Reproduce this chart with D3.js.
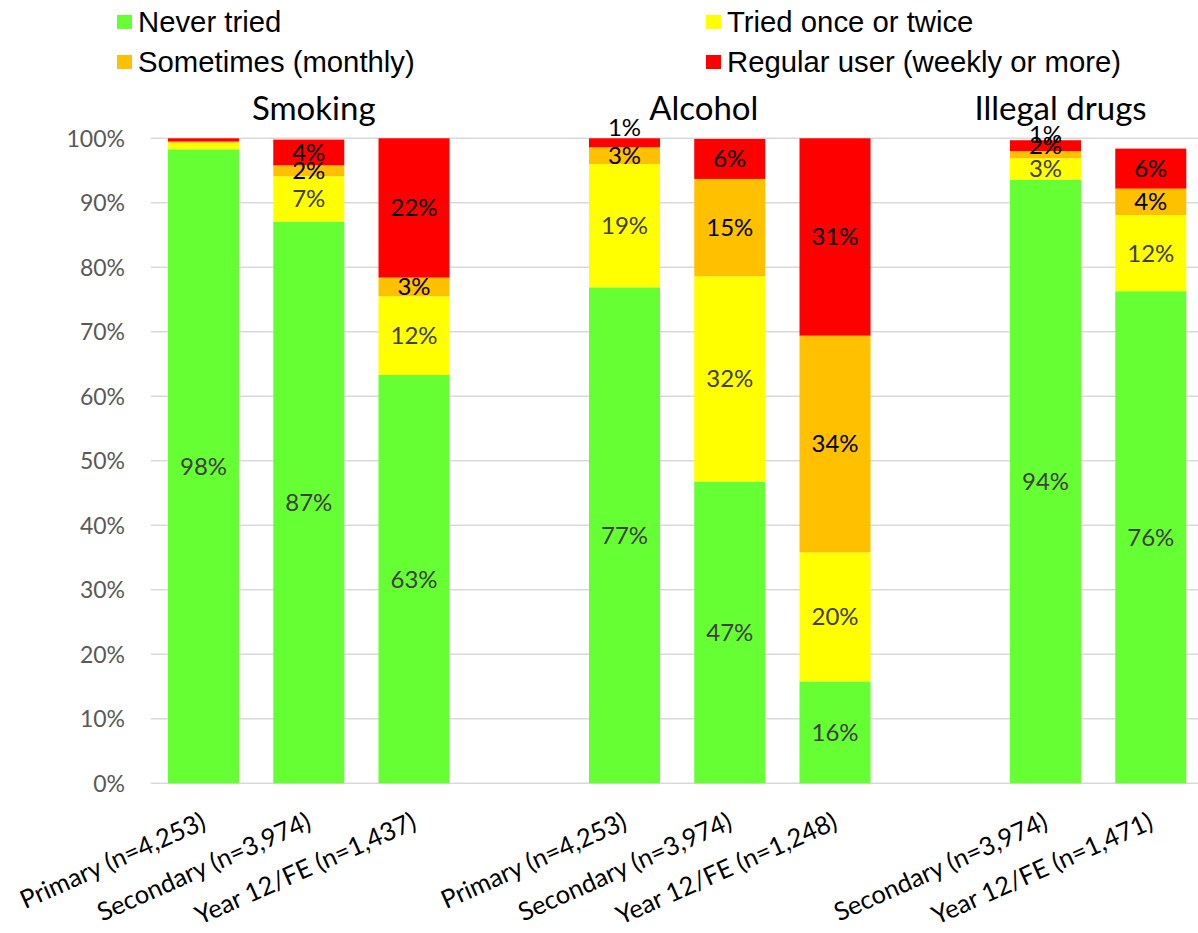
<!DOCTYPE html>
<html>
<head>
<meta charset="utf-8">
<script src="https://cdn.jsdelivr.net/npm/d3@7"></script>
<style>
  html, body { margin: 0; padding: 0; background: #fff; }
  svg { display: block; }
</style>
</head>
<body>
<svg id="chart" width="1198" height="933"></svg>
<script>
// ---------------- DATA ----------------
const groups = ["Smoking", "Alcohol", "Illegal drugs"];
const smokingCats = ["Primary (n=4,253)", "Secondary (n=3,974)", "Year 12/FE (n=1,437)"];
const alcoholCats = ["Primary (n=4,253)", "Secondary (n=3,974)", "Year 12/FE (n=1,248)"];
const drugsCats = ["Secondary (n=3,974)", "Year 12/FE (n=1,471)"];
const seriesNames = ["Never tried", "Tried once or twice", "Sometimes (monthly)", "Regular user (weekly or more)"];
// values in %, order: Smoking x3, Alcohol x3, Illegal drugs x2
const neverTried = [98.3, 87.1, 63.3, 76.9, 46.8, 15.8, 93.6, 76.3];
const triedOnce  = [1.0, 7.0, 12.2, 19.1, 31.8, 20.0, 3.3, 11.8];
const sometimes  = [0.2, 1.7, 2.9, 2.6, 15.1, 33.6, 1.1, 4.1];
const regular    = [0.5, 4.0, 21.6, 1.4, 6.2, 30.6, 1.7, 6.2];
const yTicks = [0, 10, 20, 30, 40, 50, 60, 70, 80, 90, 100];
// segments whose data label is not shown in the original
const unlabelled = [
  "Smoking|Primary (n=4,253)|Tried once or twice",
  "Smoking|Primary (n=4,253)|Sometimes (monthly)",
  "Smoking|Primary (n=4,253)|Regular user (weekly or more)"
];

// ---------------- BUILD ----------------
const colors = ["#66FF33", "#FFFF00", "#FFC000", "#FF0000"];
const labelColors = ["#404040", "#404040", "#000000", "#000000"];
const seriesValues = [neverTried, triedOnce, sometimes, regular];
const groupCats = [smokingCats, alcoholCats, drugsCats];

const bars = [];
const slots = [];
let bi = 0;
groupCats.forEach((cats, gi) => {
  cats.forEach(c => {
    const key = groups[gi] + "|" + c;
    slots.push(key);
    const row = { key, group: groups[gi], cat: c };
    seriesNames.forEach((s, si) => row[s] = seriesValues[si][bi]);
    bars.push(row);
    bi++;
  });
  if (gi < groupCats.length - 1) slots.push("gap" + gi);
});

const svg = d3.select("#chart");
const x0 = 150.9, x1 = 1203.4;
const yTop = 138.3, yBot = 783.3;

const x = d3.scaleBand().domain(slots).range([x0, x1]).paddingInner(0.325).paddingOuter(0.1625);
const y = d3.scaleLinear().domain([0, 100]).range([yBot, yTop]);

// gridlines
svg.append("g").selectAll("line").data(yTicks).join("line")
  .attr("x1", x0).attr("x2", 1198)
  .attr("y1", d => y(d)).attr("y2", d => y(d))
  .attr("stroke", "#d9d9d9").attr("stroke-width", 1.5);

// y axis
const yAxis = d3.axisLeft(y).tickValues(yTicks).tickFormat(d => d + "%").tickSize(0).tickPadding(0);
const yg = svg.append("g").attr("transform", "translate(125,0)").call(yAxis);
yg.select(".domain").remove();
yg.selectAll("text").attr("font-family", "Lato, sans-serif").attr("font-size", 23)
  .attr("fill", "#595959").attr("dy", "0.35em");

// stacks
const stack = d3.stack().keys(seriesNames);
const stacked = stack(bars);

const gBars = svg.append("g");
stacked.forEach((layer, si) => {
  gBars.append("g").attr("fill", colors[si]).selectAll("rect").data(layer).join("rect")
    .attr("x", d => x(d.data.key))
    .attr("width", x.bandwidth())
    .attr("y", d => y(d[1]))
    .attr("height", d => y(d[0]) - y(d[1]));
});

// data labels
const gLab = svg.append("g");
stacked.forEach((layer, si) => {
  layer.forEach(d => {
    const id = d.data.group + "|" + d.data.cat + "|" + seriesNames[si];
    if (unlabelled.includes(id)) return;
    const v = d[1] - d[0];
    const hpx = y(d[0]) - y(d[1]);
    let cy = (y(d[0]) + y(d[1])) / 2;
    if (hpx < 10) {
      const barTop = y(d3.sum(seriesNames, s => d.data[s]));
      cy = barTop - (si === seriesNames.length - 1 ? 11 : 6);
    }
    gLab.append("text")
      .attr("x", x(d.data.key) + x.bandwidth() / 2)
      .attr("y", cy)
      .attr("dy", "0.35em")
      .attr("text-anchor", "middle")
      .attr("font-family", "Lato, sans-serif")
      .attr("font-size", 24)
      .attr("fill", labelColors[si])
      .text(Math.round(v) + "%");
  });
});

// x labels (rotated)
const gx = svg.append("g");
bars.forEach(b => {
  const cx = x(b.key) + x.bandwidth() / 2 + 4;
  const cyy = 828;
  gx.append("text")
    .attr("transform", `translate(${cx},${cyy}) rotate(-24)`)
    .attr("text-anchor", "end")
    .attr("font-family", "Lato, sans-serif")
    .attr("font-size", 25.5)
    .attr("fill", "#000")
    .text(b.cat);
});

// group titles
const mid = k => x(k) + x.bandwidth() / 2;
const titlePos = [
  mid("Smoking|" + smokingCats[1]) + 5,
  mid("Alcohol|" + alcoholCats[1]) - 26,
  mid("Illegal drugs|" + drugsCats[0]) + 15
];
groups.forEach((g, i) => {
  svg.append("text")
    .attr("x", titlePos[i]).attr("y", 120)
    .attr("text-anchor", "middle")
    .attr("font-family", "Lato, sans-serif")
    .attr("font-size", 33)
    .attr("fill", "#000")
    .text(g);
});

// legend
const legendPos = [[117, 32], [706, 32], [117, 72], [706, 72]];
seriesNames.forEach((s, i) => {
  const [lx, ly] = legendPos[i];
  svg.append("rect").attr("x", lx).attr("y", ly - 17).attr("width", 15).attr("height", 14).attr("fill", colors[i]);
  svg.append("text").attr("x", lx + 21).attr("y", ly)
    .attr("font-family", "'Liberation Sans', Arial, sans-serif")
    .attr("font-size", 29.3).attr("fill", "#000").text(s);
});
</script>
</body>
</html>
